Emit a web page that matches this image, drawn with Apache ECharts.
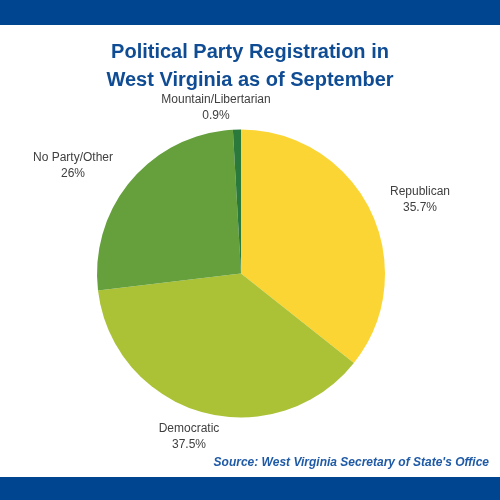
<!DOCTYPE html>
<html>
<head>
<meta charset="utf-8">
<script src="https://cdn.jsdelivr.net/npm/echarts@6/dist/echarts.min.js"></script>
<style>
  html, body { margin: 0; padding: 0; background: #fff; }
  #chart { width: 500px; height: 500px; }
</style>
</head>
<body>
<div id="chart"></div>
<script>
var parties = ['Republican', 'Democratic', 'No Party/Other', 'Mountain/Libertarian'];
var shares = [35.7, 37.5, 26, 0.9];
var colors = ['#fbd533', '#abc136', '#65a03d', '#2b7a3b'];

var chart = echarts.init(document.getElementById('chart'));

var pieData = [];
for (var i = 0; i < parties.length; i++) {
    pieData.push({ name: parties[i], value: shares[i], itemStyle: { color: colors[i] } });
}

// label anchors (Excel best-fit style)
var labelSpots = [[420, 200], [189, 437], [73, 166], [216, 108]];

var option = {
    backgroundColor: '#ffffff',
    title: {
        text: 'Political Party Registration in\nWest Virginia as of September',
        left: 'center',
        top: 33,
        textStyle: {
            fontFamily: 'Liberation Sans, Arial, sans-serif',
            fontSize: 20,
            fontWeight: 'bold',
            color: '#0f4c94',
            lineHeight: 28
        }
    },
    graphic: [
        { type: 'rect', shape: { x: 0, y: 0, width: 500, height: 25 }, style: { fill: '#00458f' } },
        { type: 'rect', shape: { x: 0, y: 477, width: 500, height: 23 }, style: { fill: '#00458f' } },
        {
            type: 'text', right: 11, top: 457,
            style: {
                text: "Source: West Virginia Secretary of State's Office",
                font: 'italic bold 12px "Liberation Sans", Arial, sans-serif',
                fill: '#1f5aa6'
            }
        }
    ],
    series: [{
        type: 'pie',
        center: [241, 273.5],
        radius: 144,
        startAngle: 90,
        clockwise: true,
        silent: true,
        data: pieData,
        label: {
            show: true,
            position: 'outside',
            formatter: function (p) { return p.name + '\n' + p.value + '%'; },
            fontFamily: 'Liberation Sans, Arial, sans-serif',
            fontSize: 12,
            lineHeight: 16,
            color: '#404040',
            align: 'center',
            width: 160,
            overflow: 'none'
        },
        labelLine: { show: false },
        labelLayout: function (params) {
            var s = labelSpots[params.dataIndex];
            return { x: s[0], y: s[1], align: 'center', verticalAlign: 'middle' };
        }
    }]
};

chart.setOption(option);
</script>
</body>
</html>
